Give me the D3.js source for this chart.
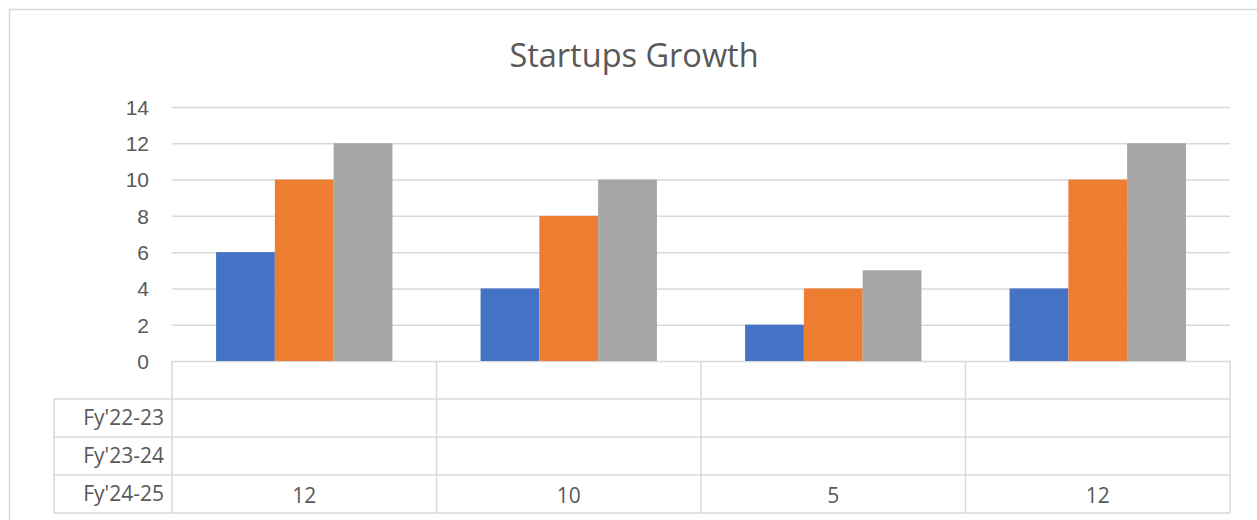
<!DOCTYPE html>
<html>
<head>
<meta charset="UTF-8">
<title>Startups Growth</title>
<style>
  body{margin:0;background:#fff;font-family:'Open Sans','Noto Sans',sans-serif}
  svg{display:block}
  .tick text,.tbl text{fill:#595959}
</style>
</head>
<body>
<div id="chart"></div>
<script src="https://d3js.org/d3.v7.min.js"></script>
<script>
// data
const categories=["","","",""];
const seriesNames=["Fy'22-23","Fy'23-24","Fy'24-25"];
const fy2223=[6,4,2,4];
const fy2324=[10,8,4,10];
const fy2425=[12,10,5,12];
// what the data table below the chart shows (only last row filled)
const tbl2223=["","","",""];
const tbl2324=["","","",""];
const tbl2425=["12","10","5","12"];
const yTicks=[0,2,4,6,8,10,12,14];
const colors=["#4472C4","#ED7D31","#A5A5A5"];

const W=1257,H=520;
const plot={left:172,right:1230,top:107,bottom:361};
const rowH=38;
const fs="21px";

const svg=d3.select("#chart").append("svg").attr("width",W).attr("height",H);

// chart frame
svg.append("rect").attr("x",9.5).attr("y",9.5).attr("width",1270).attr("height",530)
   .attr("fill","#fff").attr("stroke","#d9d9d9").attr("stroke-width",1.5);

svg.append("text").attr("x",634).attr("y",67).attr("text-anchor","middle")
   .style("font-size","32.5px").style("fill","#595959").text("Startups Growth");

const series=[fy2223,fy2324,fy2425];
const x0=d3.scaleBand().domain(d3.range(categories.length))
   .range([plot.left,plot.right]).paddingInner(1/3).paddingOuter(1/6);
const x1=d3.scaleBand().domain(d3.range(series.length)).range([0,x0.bandwidth()]);
const y=d3.scaleLinear().domain([0,14]).range([plot.bottom,plot.top]);

// gridlines + y labels
const yAxis=svg.append("g").attr("transform",`translate(${plot.left},0)`)
   .call(d3.axisLeft(y).tickValues(yTicks).tickSize(-(plot.right-plot.left)).tickPadding(23));
yAxis.select(".domain").remove();
yAxis.selectAll("line").attr("stroke","#d9d9d9").attr("stroke-width",1.5);
yAxis.selectAll("text").style("font-size",fs).attr("dy","0.35em");

// bars
series.forEach((vals,s)=>{
  svg.append("g").selectAll("rect").data(vals).join("rect")
    .attr("x",(d,i)=>x0(i)+x1(s))
    .attr("width",x1.bandwidth())
    .attr("y",d=>y(d))
    .attr("height",d=>y(0)-y(d))
    .attr("fill",colors[s]);
});

// data table
const tbl=svg.append("g").attr("class","tbl");
const tblRows=[tbl2223,tbl2324,tbl2425];
const tTop=plot.bottom, labelLeft=54;
const lineC="#d9d9d9";
const hLine=(x1_,x2_,yy)=>tbl.append("line").attr("x1",x1_).attr("x2",x2_).attr("y1",yy).attr("y2",yy)
   .attr("stroke",lineC).attr("stroke-width",1.5);
const vLine=(xx,y1_,y2_)=>tbl.append("line").attr("x1",xx).attr("x2",xx).attr("y1",y1_).attr("y2",y2_)
   .attr("stroke",lineC).attr("stroke-width",1.5);

for(let r=1;r<=tblRows.length+1;r++) hLine(labelLeft,plot.right,tTop+r*rowH);
vLine(labelLeft,tTop+rowH,tTop+rowH*(tblRows.length+1));
const step=x0.step();
for(let c=0;c<=categories.length;c++) vLine(plot.left+c*step,tTop,tTop+rowH*(tblRows.length+1));

// category row (blank categories)
tbl.selectAll("text.cat").data(categories).join("text").attr("class","cat")
   .attr("x",(d,i)=>plot.left+(i+0.5)*step).attr("y",tTop+rowH/2).attr("dy","0.35em")
   .attr("text-anchor","middle").style("font-size",fs).text(d=>d);

tblRows.forEach((row,r)=>{
  const yy=tTop+rowH*(r+1)+rowH/2;
  tbl.append("text").attr("x",164).attr("y",yy).attr("dy","0.35em").attr("text-anchor","end")
     .style("font-size",fs).text(seriesNames[r]);
  tbl.append("g").selectAll("text").data(row).join("text")
     .attr("x",(d,i)=>plot.left+(i+0.5)*step).attr("y",yy+2).attr("dy","0.35em")
     .attr("text-anchor","middle").style("font-size",fs).text(d=>d);
});
</script>
</body>
</html>
